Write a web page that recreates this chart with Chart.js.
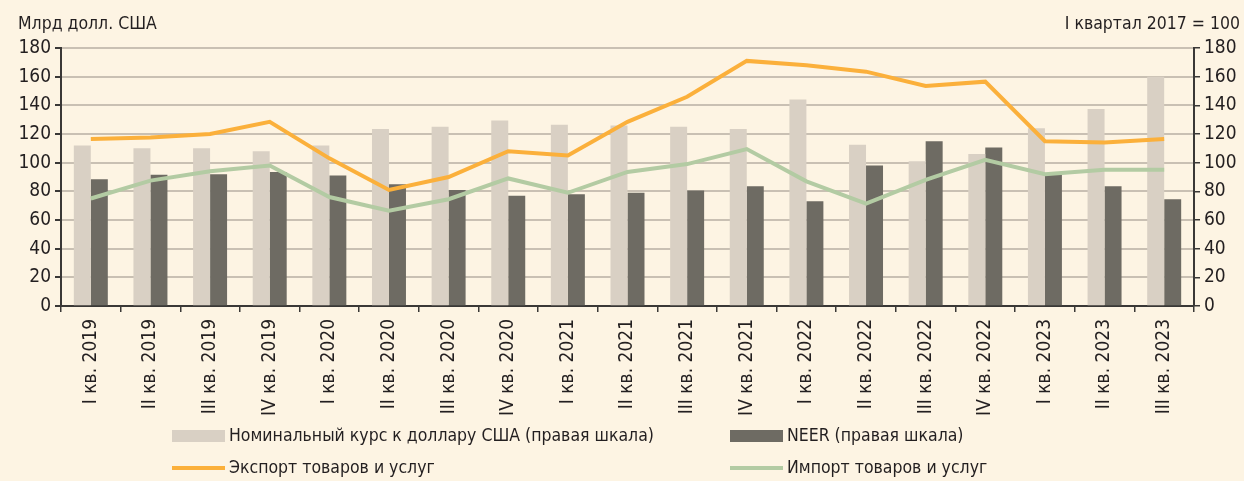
<!DOCTYPE html>
<html>
<head>
<meta charset="utf-8">
<script src="https://cdn.jsdelivr.net/npm/chart.js@4.4.1/dist/chart.umd.min.js"></script>
<style>
  html, body { margin: 0; padding: 0; background: #fdf4e3; }
  #wrap { position: relative; width: 1244px; height: 481px; }
</style>
</head>
<body>
<div id="wrap"><canvas id="chart" width="1244" height="481"></canvas></div>
<script>
const FONT = "'Liberation Sans Narrow', 'DejaVu Sans Condensed', 'Roboto', sans-serif";

const quarters = [
  "I кв. 2019", "II кв. 2019", "III кв. 2019", "IV кв. 2019",
  "I кв. 2020", "II кв. 2020", "III кв. 2020", "IV кв. 2020",
  "I кв. 2021", "II кв. 2021", "III кв. 2021", "IV кв. 2021",
  "I кв. 2022", "II кв. 2022", "III кв. 2022", "IV кв. 2022",
  "I кв. 2023", "II кв. 2023", "III кв. 2023"
];

// index, I quarter 2017 = 100 (right axis)
const nominalRate = [112, 110, 110, 108, 112, 123.5, 125, 129.5, 126.5, 126, 125, 123.5, 144, 112.5, 101, 106, 124, 137.5, 160];
const neer = [88.5, 91.5, 92, 93.5, 91, 85, 81, 77, 78, 79, 80.5, 83.5, 73, 98, 115, 110.5, 91.5, 83.5, 74.5];

// bln USD (left axis)
const exports = [116.5, 117.5, 120, 128.5, 103, 81, 90, 108, 105, 128.5, 146, 171, 168, 163.5, 153.5, 156.5, 115, 114, 116.5];
const imports = [75, 87.5, 94, 98, 76, 66.5, 74.5, 89, 79, 93.5, 99, 109.5, 87, 71.5, 88, 102, 92, 95, 95];

const legendItems = [
  { label: "Номинальный курс к доллару США (правая шкала)", color: "#d9d0c4", type: "box", x: 172, y: 436 },
  { label: "NEER (правая шкала)", color: "#6e6b63", type: "box", x: 730, y: 436 },
  { label: "Экспорт товаров и услуг", color: "#fbb03b", type: "line", x: 172, y: 468 },
  { label: "Импорт товаров и услуг", color: "#b3cba3", type: "line", x: 730, y: 468 }
];

const extras = {
  id: "extras",
  beforeDraw(chart) {
    const ctx = chart.ctx;
    ctx.save();
    ctx.fillStyle = "#fdf4e3";
    ctx.fillRect(0, 0, chart.width, chart.height);
    ctx.restore();
  },
  afterDraw(chart) {
    const ctx = chart.ctx;
    ctx.save();
    ctx.fillStyle = "#231f20";
    ctx.font = "17.5px " + FONT;
    ctx.textBaseline = "middle";
    ctx.textAlign = "left";
    ctx.fillText("Млрд долл. США", 18, 24);
    ctx.textAlign = "right";
    ctx.fillText("I квартал 2017 = 100", 1240, 24);

    ctx.textAlign = "left";
    legendItems.forEach(it => {
      if (it.type === "box") {
        ctx.fillStyle = it.color;
        ctx.fillRect(it.x, it.y - 6, 53, 12);
      } else {
        ctx.strokeStyle = it.color;
        ctx.lineWidth = 4;
        ctx.beginPath();
        ctx.moveTo(it.x, it.y);
        ctx.lineTo(it.x + 53, it.y);
        ctx.stroke();
      }
      ctx.fillStyle = "#231f20";
      ctx.fillText(it.label, it.x + 57, it.y);
    });
    ctx.restore();
  }
};

new Chart(document.getElementById("chart"), {
  data: {
    labels: quarters,
    datasets: [
      {
        type: "line",
        label: "Экспорт товаров и услуг",
        data: exports,
        yAxisID: "y",
        borderColor: "#fbb03b",
        borderWidth: 4,
        pointRadius: 0,
        tension: 0,
        order: 0
      },
      {
        type: "line",
        label: "Импорт товаров и услуг",
        data: imports,
        yAxisID: "y",
        borderColor: "#b3cba3",
        borderWidth: 4,
        pointRadius: 0,
        tension: 0,
        order: 0
      },
      {
        type: "bar",
        label: "Номинальный курс к доллару США (правая шкала)",
        data: nominalRate,
        yAxisID: "y2",
        backgroundColor: "#d9d0c4",
        categoryPercentage: 0.57,
        barPercentage: 1,
        order: 1
      },
      {
        type: "bar",
        label: "NEER (правая шкала)",
        data: neer,
        yAxisID: "y2",
        backgroundColor: "#6e6b63",
        categoryPercentage: 0.57,
        barPercentage: 1,
        order: 1
      }
    ]
  },
  options: {
    responsive: false,
    animation: false,
    layout: { padding: { left: 0, right: 0, top: 48, bottom: 60 } },
    plugins: {
      legend: { display: false },
      tooltip: { enabled: false }
    },
    scales: {
      x: {
        offset: true,
        grid: {
          offset: true,
          drawOnChartArea: false,
          drawTicks: true,
          tickLength: 6,
          color: "#3a3836",
          lineWidth: 1.5
        },
        border: { display: true, color: "#3a3836", width: 2 },
        ticks: {
          maxRotation: 90,
          minRotation: 90,
          autoSkip: false,
          padding: 7,
          color: "#231f20",
          font: { family: FONT, size: 19 }
        },
        afterFit: s => { s.height = 115; }
      },
      y: {
        position: "left",
        min: 0,
        max: 180,
        ticks: {
          stepSize: 20,
          padding: 4,
          color: "#231f20",
          font: { family: FONT, size: 19 }
        },
        grid: {
          color: "#c9c0b3",
          lineWidth: 2,
          tickLength: 6,
          tickColor: "#3a3836"
        },
        border: { display: true, color: "#3a3836", width: 2 },
        afterFit: s => { s.width = 61; }
      },
      y2: {
        position: "right",
        min: 0,
        max: 180,
        ticks: {
          stepSize: 20,
          padding: 4,
          color: "#231f20",
          font: { family: FONT, size: 19 }
        },
        grid: {
          drawOnChartArea: false,
          tickLength: 6,
          tickColor: "#3a3836",
          lineWidth: 1.5
        },
        border: { display: true, color: "#3a3836", width: 2 },
        afterFit: s => { s.width = 50; }
      }
    }
  },
  plugins: [extras]
});
</script>
</body>
</html>
